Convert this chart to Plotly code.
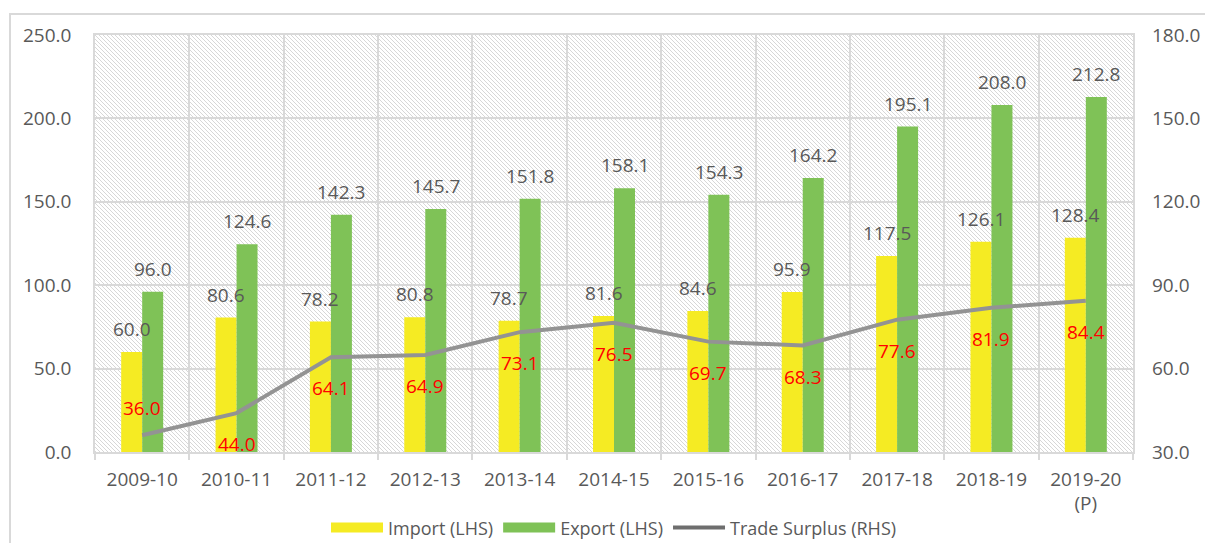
import base64
import plotly.graph_objects as go

categories = ["2009-10", "2010-11", "2011-12", "2012-13", "2013-14", "2014-15",
              "2015-16", "2016-17", "2017-18", "2018-19", "2019-20<br>(P)"]
imports = [60.0, 80.6, 78.2, 80.8, 78.7, 81.6, 84.6, 95.9, 117.5, 126.1, 128.4]
exports = [96.0, 124.6, 142.3, 145.7, 151.8, 158.1, 154.3, 164.2, 195.1, 208.0, 212.8]
surplus = [36.0, 44.0, 64.1, 64.9, 73.1, 76.5, 69.7, 68.3, 77.6, 81.9, 84.4]

left_ticks = [0, 50, 100, 150, 200, 250]
right_ticks = [30, 60, 90, 120, 150, 180]

# label placement (style): vertical shift of the red surplus labels in px
surplus_label_shift = [27, -31, -31, -31, -31, -31, -31, -31, -31, -31, -31]

YELLOW = "#F5EB23"
GREEN = "#7FC257"
LINE = "#939393"
LEGEND_LINE = "#6E6E6E"
TEXT = "#595959"
GRID = "#D9D9D9"
FONT = "Open Sans"

W, H = 1205, 543
ML, MR, MT, MB = 95, 72, 35, 91
PW, PH = W - ML - MR, H - MT - MB

fig = go.Figure()
fig.add_trace(go.Bar(x=categories, y=imports, name="Import (LHS)", showlegend=False,
                     marker=dict(color=YELLOW, line=dict(width=0))))
fig.add_trace(go.Bar(x=categories, y=exports, name="Export (LHS)", showlegend=False,
                     marker=dict(color=GREEN, line=dict(width=0))))
fig.add_trace(go.Scatter(x=categories, y=surplus, name="Trade Surplus (RHS)",
                         mode="lines", yaxis="y2", showlegend=False,
                         line=dict(color=LINE, width=4)))
# legend-only entries (wide swatches like the original)
for nm, col, wd in [("Import (LHS)", YELLOW, 13), ("Export (LHS)", GREEN, 13),
                    ("Trade Surplus (RHS)", LEGEND_LINE, 4)]:
    fig.add_trace(go.Scatter(x=[None], y=[None], name=nm, mode="lines",
                             line=dict(color=col, width=wd), hoverinfo="skip"))

annotations = []
for c, v in zip(categories, imports):
    annotations.append(dict(x=c, y=v, xref="x", yref="y", text=f"{v:.1f}",
                            showarrow=False, yanchor="bottom", yshift=8, xshift=-10.5,
                            font=dict(family=FONT, size=19, color=TEXT)))
for c, v in zip(categories, exports):
    annotations.append(dict(x=c, y=v, xref="x", yref="y", text=f"{v:.1f}",
                            showarrow=False, yanchor="bottom", yshift=8, xshift=10.5,
                            font=dict(family=FONT, size=19, color=TEXT)))
for c, v, s in zip(categories, surplus, surplus_label_shift):
    annotations.append(dict(x=c, y=v, xref="x", yref="y2", text=f"{v:.1f}",
                            showarrow=False, yanchor="middle", yshift=s,
                            font=dict(family=FONT, size=19, color="#FF0000")))

svg = (f'<svg xmlns="http://www.w3.org/2000/svg" width="{PW}" height="{PH}" '
       f'viewBox="0 0 {PW} {PH}" preserveAspectRatio="none">'
       '<defs><pattern id="p" width="4" height="4" patternUnits="userSpaceOnUse">'
       '<path d="M-1,3 L1,5 M0,0 L4,4 M3,-1 L5,1" stroke="#CDCDCD" stroke-width="0.8"/>'
       '</pattern></defs>'
       '<rect width="100%" height="100%" fill="#FFFFFF"/>'
       '<rect width="100%" height="100%" fill="url(#p)"/></svg>')
src = "data:image/svg+xml;base64," + base64.b64encode(svg.encode()).decode()

# outer chart-area border (clipped at right/bottom like the reference)
bx0 = (10 - ML) / PW
bx1 = (W + 10 - ML) / PW
by1 = (H - MB - 14) / PH
by0 = (H - MB - (H + 10)) / PH

fig.update_layout(
    width=W, height=H,
    margin=dict(l=ML, r=MR, t=MT, b=MB, pad=0, autoexpand=False),
    paper_bgcolor="white", plot_bgcolor="white",
    barmode="group", bargap=0.555, bargroupgap=0,
    font=dict(family=FONT, color=TEXT),
    showlegend=True,
    legend=dict(orientation="h", x=0.5, xanchor="center", y=-0.182, yanchor="middle",
                font=dict(family=FONT, size=18, color=TEXT), traceorder="normal",
                itemwidth=52, bgcolor="rgba(0,0,0,0)"),
    xaxis=dict(type="category", tickson="boundaries", showgrid=True, gridcolor=GRID,
               gridwidth=1.5, showline=True, linecolor=GRID, linewidth=1.5, mirror=True,
               ticks="outside", ticklen=6, tickcolor=GRID, tickwidth=1.5,
               tickfont=dict(family=FONT, size=19, color=TEXT), ticklabelstandoff=9),
    yaxis=dict(range=[0, 250], tickvals=left_ticks, tickformat=".1f",
               showgrid=True, gridcolor=GRID, gridwidth=1.5, zeroline=False,
               showline=True, linecolor=GRID, linewidth=1.5, mirror=True,
               ticks="", ticklabelstandoff=18,
               tickfont=dict(family=FONT, size=19, color=TEXT)),
    yaxis2=dict(range=[30, 180], tickvals=right_ticks, tickformat=".1f",
                overlaying="y", side="right", showgrid=False, zeroline=False,
                showline=False, ticks="", ticklabelstandoff=18,
                tickfont=dict(family=FONT, size=19, color=TEXT)),
    annotations=annotations,
    images=[dict(source=src, xref="paper", yref="paper", x=0, y=1, sizex=1, sizey=1,
                 xanchor="left", yanchor="top", sizing="stretch", layer="below")],
    shapes=[dict(type="rect", xref="paper", yref="paper", x0=bx0, x1=bx1, y0=by0, y1=by1,
                 line=dict(color=GRID, width=2), fillcolor="rgba(0,0,0,0)", layer="below")],
)

fig.write_html("out.html", config={"displayModeBar": False},
               post_script="document.body.style.margin='0';")
